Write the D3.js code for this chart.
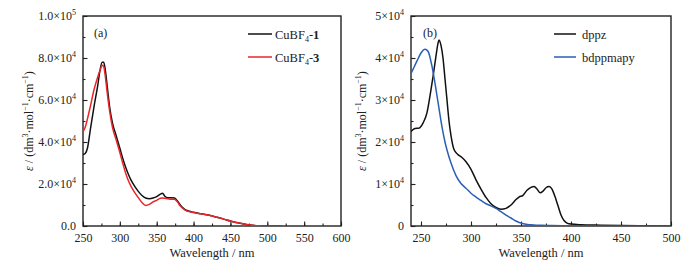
<!DOCTYPE html>
<html><head><meta charset="utf-8">
<script src="https://cdn.jsdelivr.net/npm/d3@7"></script>
<style>
html,body{margin:0;padding:0;background:#fff;}
text{font-family:"Liberation Serif","Times New Roman",serif;fill:#222;}
</style></head>
<body><svg id="c" width="697" height="268"></svg>
<script>
// ---- data (values in 10^3 dm3 mol-1 cm-1) ----
const cuWl = [250,253,256,260,265,270,273,276,278,280,283,286,290,295,300,305,310,315,320,325,330,335,340,345,350,355,358,361,365,370,374,378,382,386,390,395,400,410,420,430,440,450,460,470,480,490,500,520];
const cu1 = [34,34.5,37,46,57,67,74,78,78,75,66,57,49,43,37,31,26,22,19,16.5,14.5,13.3,13,13.3,14,15.2,15.6,14.2,13.5,13.5,13.3,12,10,8.5,7.5,7,6.5,5.8,5.2,4.3,3.4,2.4,1.5,0.8,0.3,0.1,0,0];
const cu3 = [45,47,51,57,65,71,74,76.5,76,72,63,55,47,41,35,28.5,23,19,16,13.5,11.2,9.8,10.3,11.5,12.2,13.2,13.3,13.2,13,12.7,12.7,11.5,9.5,8.2,7.3,6.8,6.4,5.8,5.2,4.3,3.4,2.4,1.5,0.8,0.3,0.1,0,0];

const dppzWl = [240,244,248,252,256,259,262,265,267,268,270,272,274,276,278,280,283,287,291,295,300,305,310,315,320,325,330,335,340,345,348,352,356,360,363,366,369,372,375,378,381,384,387,390,393,396,400,410,430,450,480,500];
const dppz = [22.5,23.2,23.3,24.5,27,31,35.5,40.5,43.5,44.3,43,40,35,30,25,21.5,18.2,17,16.3,15.3,13.5,11,8.8,6.8,5.3,4.4,4.0,4.2,5.0,6.3,6.9,7.3,8.5,9.2,9.4,8.8,7.9,8.3,9.1,9.4,8.8,7.0,4.8,2.6,1.3,0.7,0.45,0.3,0.2,0.1,0.05,0];
const bdpWl = [240,243,246,250,254,257,261,264,266,268,271,274,276,280,285,290,295,300,305,310,315,320,325,330,335,340,345,350,355,360,370,380,400,420,500];
const bdp = [36.3,37.8,39.3,41.2,42.1,41.6,38,34,31,28,23.6,20,18.1,15,12,10.1,9,7.8,6.9,6.1,5.3,4.8,4.2,3.4,2.6,1.9,1.2,0.7,0.4,0.3,0.15,0.1,0.05,0,0];

const leftXTicks = [250,300,350,400,450,500,550,600];
const leftYTicks = [0,20,40,60,80,100];
const leftYMant = ["0.0","2.0","4.0","6.0","8.0","1.0"];
const leftYExp = [null,"4","4","4","4","5"];
const rightXTicks = [250,300,350,400,450,500];
const rightYTicks = [0,10,20,30,40,50];
const rightYMant = ["0","1","2","3","4","5"];
const rightYExp = [null,"4","4","4","4","4"];

const svg = d3.select("#c");
const yTop = 16, yBot = 226;

function panel(o){
  const g = svg.append("g");
  const x = d3.scaleLinear().domain(o.xd).range([o.x0,o.x1]);
  const y = d3.scaleLinear().domain(o.yd).range([yBot,yTop]);
  const id = "clip"+o.name;
  svg.append("clipPath").attr("id",id).append("rect").attr("x",o.x0).attr("y",yTop).attr("width",o.x1-o.x0).attr("height",yBot-yTop);
  // minor ticks
  const minorStart = Math.ceil(o.xd[0]/25)*25;
  g.append("g").attr("transform",`translate(0,${yBot})`)
    .call(d3.axisBottom(x).tickValues(d3.range(minorStart, o.xd[1]+1, 25)).tickSize(-2.5).tickFormat(""))
    .call(a=>a.select(".domain").remove());
  g.append("g").attr("transform",`translate(${o.x0},0)`)
    .call(d3.axisLeft(y).tickValues(d3.range(o.yd[0],o.yd[1]+0.001,o.ystep/2)).tickSize(-2.5).tickFormat(""))
    .call(a=>a.select(".domain").remove());
  // major x
  const ax = g.append("g").attr("transform",`translate(0,${yBot})`)
    .call(d3.axisBottom(x).tickValues(o.xt).tickSizeInner(-4.5).tickSizeOuter(0).tickPadding(7).tickFormat(d=>d));
  ax.select(".domain").remove();
  ax.selectAll("text").attr("font-size","12px").style("font-family","'Liberation Serif', serif").attr("fill","#222");
  // major y
  const ay = g.append("g").attr("transform",`translate(${o.x0},0)`)
    .call(d3.axisLeft(y).tickValues(o.yt).tickSizeInner(-4.5).tickSizeOuter(0).tickPadding(7).tickFormat(""));
  ay.select(".domain").remove();
  ay.selectAll(".tick").each(function(d,i){
    const t = d3.select(this).select("text").attr("font-size","12px").attr("fill","#222").style("font-family","'Liberation Serif', serif");
    t.append("tspan").text(o.ym[i]);
    if(o.ye[i]){
      t.append("tspan").text("×10");
      t.append("tspan").attr("font-size","8px").attr("dy","-5").text(o.ye[i]);
    }
  });
  g.selectAll(".tick line").attr("stroke","#222").attr("stroke-width",1.1);
  // frame
  g.append("rect").attr("x",o.x0).attr("y",yTop).attr("width",o.x1-o.x0).attr("height",yBot-yTop)
    .attr("fill","none").attr("stroke","#222").attr("stroke-width",1.4);
  // lines
  const line = d3.line().x(d=>x(d[0])).y(d=>y(d[1])).curve(d3.curveMonotoneX);
  o.series.forEach(s=>{
    g.append("path").attr("clip-path",`url(#${id})`).datum(s.wl.map((w,i)=>[w,s.v[i]]))
      .attr("d",line).attr("fill","none").attr("stroke",s.color).attr("stroke-width",1.5);
  });
  // legend
  o.series.forEach((s,i)=>{
    const ly = 34 + i*23;
    g.append("line").attr("x1",o.lx).attr("x2",o.lx+o.lw).attr("y1",ly).attr("y2",ly).attr("stroke",s.color).attr("stroke-width",1.5);
    const t = g.append("text").attr("x",o.lx+o.lw+o.lg).attr("y",ly+4.5).attr("font-size","12.5px");
    s.label(t);
  });
  // panel label
  g.append("text").attr("x",o.px).attr("y",37).attr("font-size","12px").text(o.plabel);
  // x title
  g.append("text").attr("x",(o.x0+o.x1)/2).attr("y",257).attr("text-anchor","middle").attr("font-size","12.5px").text("Wavelength / nm");
  // y title
  const yt = g.append("text").attr("transform",`translate(${o.tx},${(yTop+yBot)/2}) rotate(-90)`).attr("text-anchor","middle").attr("font-size","12px");
  yt.append("tspan").attr("font-style","italic").text("ε");
  yt.append("tspan").text(" / (dm");
  yt.append("tspan").attr("font-size","8px").attr("dy","-5").text("3");
  yt.append("tspan").attr("dy","5").text("·mol");
  yt.append("tspan").attr("font-size","8px").attr("dy","-5").text("−1");
  yt.append("tspan").attr("dy","5").text("·cm");
  yt.append("tspan").attr("font-size","8px").attr("dy","-5").text("−1");
  yt.append("tspan").attr("dy","5").text(")");
}

function cuLabel(n){
  return t=>{
    t.append("tspan").text("CuBF");
    t.append("tspan").attr("font-size","8px").attr("dy","3").text("4");
    t.append("tspan").attr("dy","-3").text("-");
    t.append("tspan").attr("font-weight","bold").text(n);
  };
}

panel({name:"a",xd:[250,600],yd:[0,100],x0:83,x1:341,xt:leftXTicks,yt:leftYTicks,ym:leftYMant,ye:leftYExp,ystep:20,
  tx:33,px:94,plabel:"(a)",lx:248,lw:24,lg:3,
  series:[{wl:cuWl,v:cu1,color:"#111",label:cuLabel("1")},{wl:cuWl,v:cu3,color:"#e8262a",label:cuLabel("3")}]});
panel({name:"b",xd:[240,500],yd:[0,50],x0:411,x1:671,xt:rightXTicks,yt:rightYTicks,ym:rightYMant,ye:rightYExp,ystep:10,
  tx:366,px:423,plabel:"(b)",lx:554,lw:22,lg:6,
  series:[{wl:dppzWl,v:dppz,color:"#111",label:t=>t.text("dppz")},{wl:bdpWl,v:bdp,color:"#2a5fb5",label:t=>t.text("bdppmapy")}]});
</script></body></html>
